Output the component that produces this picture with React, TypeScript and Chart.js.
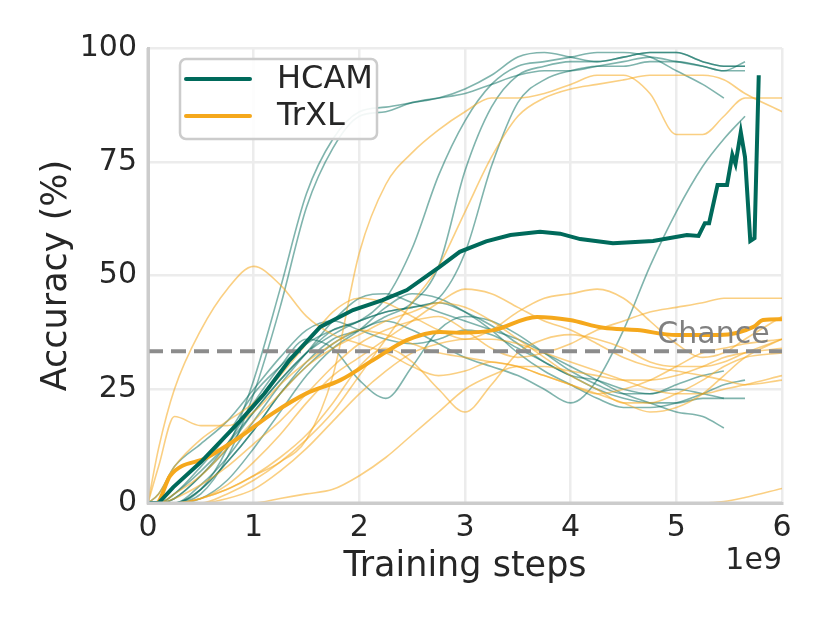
import { useEffect, useRef } from 'react';
import Chart from 'chart.js/auto';

// training steps (x1e9) shared by the individual runs
const steps = [0, 0.1, 0.25, 0.5, 0.75, 1, 1.25, 1.5, 1.75, 2, 2.25, 2.5, 2.75, 3, 3.25, 3.5, 3.75, 4, 4.25, 4.5, 4.75, 5, 5.25, 5.45, 5.65, 6];

// HCAM individual runs (accuracy %)
const hcamRun1 = [0, 0, 0, 3, 12, 27, 47, 68, 80, 86, 87, 88, 89, 91, 94, 98, 99, 98, 97, 98, 99, 99, 97, 96, 96, null];
const hcamRun2 = [0, 0, 0, 2, 10, 24, 43, 65, 78, 85, 86, 88, 89, 90, 92, 94, 95, 95, 96, 97, 98, 97, 96, 95, 95, null];
const hcamRun3 = [0, 0, 1, 6, 12, 20, 27, 33, 38, 40, 45, 56, 72, 84, 92, 96, 97, 98, 99, 99, 98, 95, 92, 89, null, null];
const hcamRun4 = [0, 0, 0, 3, 9, 16, 24, 31, 36, 38, 41, 44, 52, 73, 87, 94, 96, 97, 97, 98, 99, 99, 97, 96, 96, null];
const hcamRun5 = [0, 0, 2, 7, 13, 20, 27, 33, 37, 40, 42, 43, 45, 55, 74, 88, 93, 95, 96, 96, 97, 97, 96, 95, 97, null];
const hcamRun6 = [0, 0, 0, 3, 9, 16, 24, 30, 35, 38, 40, 38, 35, 32, 30, 28, 25, 22, 27, 38, 52, 64, 74, 80, 85, null];
const hcamRun7 = [0, 0, 0, 4, 10, 18, 26, 33, 40, 45, 46, 44, 42, 40, 38, 36, 33, 30, 27, 24, 22, 20, 19, 16.5, null, null];
const hcamRun8 = [0, 0, 2, 8, 15, 24, 30, 35, 38, 40, 42, 43, 44, 42, 39, 35, 31, 28, 25, 23, 22, 22, 23, 23, 23, null];
const hcamRun9 = [0, 0, 1, 6, 13, 22, 30, 36, 34, 27, 23, 30, 38, 41, 40, 37, 33, 29, 26, 24, 24, 25, 24, 23, null, null];
const hcamRun10 = [0, 0, 0, 1, 5, 12, 20, 28, 34, 38, 43, 46, 45, 42, 38, 33, 29, 26, 23, 21, 21, 22, 24, 26, 27, null];
const hcamRun11 = [0, 2, 8, 13, 18, 25, 32, 38, 40, 38, 36, 35, 36, 38, 37, 34, 31, 28, 27, 25, 24, 26, 28, 29, null, null];

// TrXL individual runs (accuracy %)
const trxlRun1 = [0, 12, 25, 38, 47, 52, 48, 41, 37, 35, 33, 30, 28, 29, 31, 30, 28, 26, 24, 25, 27, 30, 33, 34, 35, 36];
const trxlRun2 = [0, 0, 0, 1, 3, 6, 9, 14, 28, 55, 70, 77, 82, 86, 89, 89, 90, 92, 94, 94, 90, 81, 81, 85, 89, 89];
const trxlRun3 = [0, 0, 0, 0, 2, 5, 9, 14, 20, 28, 36, 44, 52, 64, 76, 85, 89, 91, 92, 93, 94, 94, 94, 93, 90, 86];
const trxlRun4 = [0, 0, 0, 0, 0, 0, 1, 2, 3, 6, 10, 15, 20, 25, 28, 30, 30, 29, 28, 27, 27, 28, 30, 32, 33, 34];
const trxlRun5 = [0, 0, 0, 0, 0, 0, 0, 0, 0, 0, 0, 0, 0, 0, 0, 0, 0, 0, 0, 0, 0, 0, 0, 0.3, 1.2, 3.2];
const trxlRun6 = [0, 2, 8, 14, 18, 22, 28, 35, 42, 45, 44, 41, 38, 36, 38, 42, 45, 46, 47, 45, 40, 35, 32, 33, 36, 41];
const trxlRun7 = [0, 0, 1, 4, 8, 13, 18, 24, 30, 35, 38, 40, 41, 38, 34, 32, 33, 35, 38, 40, 42, 43, 44, 45, 45, 45];
const trxlRun8 = [0, 0, 2, 6, 12, 18, 24, 30, 34, 37, 40, 42, 44, 43, 40, 36, 32, 28, 25, 22, 22, 24, 27, 30, 32, 33];
const trxlRun9 = [0, 8, 19, 17, 17, 20, 26, 31, 35, 38, 37, 35, 33, 32, 31, 30, 28, 26, 24, 22, 20, 21, 24, 28, 32, 36];
const trxlRun10 = [0, 0, 0, 1, 4, 9, 15, 22, 28, 32, 36, 40, 44, 47, 46, 43, 40, 38, 35, 32, 30, 29, 28, 27, 26, 27];
const trxlRun11 = [0, 0, 0, 0, 1, 3, 7, 12, 18, 24, 29, 33, 35, 36, 36, 35, 33, 31, 29, 27, 25, 24, 24, 25, 26, 28];
const trxlRun12 = [0, 0, 0, 1, 3, 6, 10, 15, 22, 30, 34, 31, 25, 20, 26, 33, 36, 37, 36, 34, 31, 30, 30, 31, 33, 36];

// mean curves
const hcamMeanSteps = [0, 0.1, 0.24, 0.5, 0.87, 1.1, 1.34, 1.63, 1.94, 2.22, 2.45, 2.76, 2.95, 3.2, 3.43, 3.71, 3.9, 4.09, 4.4, 4.78, 5.1, 5.21, 5.27, 5.31, 5.39, 5.48, 5.53, 5.56, 5.61, 5.65, 5.7, 5.74, 5.78];
const hcamMean = [0, 0, 3.5, 9, 18, 24, 31.4, 38.7, 42.4, 44.6, 46.8, 51.9, 55.2, 57.5, 58.9, 59.6, 59.2, 58, 57.1, 57.6, 58.9, 58.7, 61.5, 61.5, 69.9, 69.9, 76.5, 74.5, 81.5, 76, 57.6, 58.2, 94];
const trxlMeanSteps = [0, 0.08, 0.21, 0.56, 0.87, 1.18, 1.5, 1.82, 2.13, 2.45, 2.76, 2.95, 3.27, 3.68, 3.99, 4.31, 4.63, 5, 5.41, 5.73, 5.82, 6];
const trxlMean = [0, 0, 6, 10, 14.5, 19.7, 24.1, 27, 31.4, 35.8, 37.6, 37.4, 38, 40.9, 40.2, 38.5, 38, 36.9, 36.9, 38.7, 40.2, 40.4];

const chanceLevel = 100 / 3;
const xTicks = [0, 1, 2, 3, 4, 5, 6];
const yTicks = [0, 25, 50, 75, 100];

const hcamRuns = [hcamRun1, hcamRun2, hcamRun3, hcamRun4, hcamRun5, hcamRun6, hcamRun7, hcamRun8, hcamRun9, hcamRun10, hcamRun11];
const trxlRuns = [trxlRun1, trxlRun2, trxlRun3, trxlRun4, trxlRun5, trxlRun6, trxlRun7, trxlRun8, trxlRun9, trxlRun10, trxlRun11, trxlRun12];

const TEAL = '#006a5b';
const TEAL_THIN = 'rgba(0,106,91,0.5)';
const ORANGE = '#f5a81c';
const ORANGE_THIN = 'rgba(245,168,28,0.55)';
const TEXT = '#262626';
const SPINE = '#cccccc';
const FONT = "'DejaVu Sans', sans-serif";

const toPoints = (xs: number[], ys: (number | null)[]) =>
  xs.map((x, i) => ({ x, y: ys[i] })).filter((p) => p.y !== null) as { x: number; y: number }[];

const overlay = {
  id: 'overlay',
  afterDatasetsDraw(chart: any) {
    // spines sit above the curves, as in matplotlib
    const { ctx, chartArea } = chart;
    ctx.save();
    ctx.strokeStyle = SPINE;
    ctx.lineWidth = 3;
    ctx.beginPath();
    ctx.moveTo(chartArea.left, chartArea.top);
    ctx.lineTo(chartArea.left, chartArea.bottom);
    ctx.lineTo(chartArea.right, chartArea.bottom);
    ctx.stroke();
    ctx.restore();
  },
  afterDraw(chart: any) {
    const { ctx, scales } = chart;
    ctx.save();
    // "Chance" label
    ctx.font = `30px ${FONT}`;
    ctx.fillStyle = '#808080';
    ctx.textAlign = 'left';
    ctx.textBaseline = 'alphabetic';
    ctx.fillText('Chance', scales.x.getPixelForValue(4.82), scales.y.getPixelForValue(35.2));

    // exponent
    ctx.fillStyle = TEXT;
    ctx.font = `30px ${FONT}`;
    ctx.textAlign = 'right';
    ctx.textBaseline = 'middle';
    ctx.fillText('1e9', chart.chartArea.right, 561);

    // legend
    ctx.beginPath();
    ctx.roundRect(180, 59, 197, 80, 6);
    ctx.fillStyle = 'rgba(255,255,255,0.9)';
    ctx.fill();
    ctx.lineWidth = 2.5;
    ctx.strokeStyle = SPINE;
    ctx.stroke();
    const rows = [
      { label: 'HCAM', color: TEAL, y: 79 },
      { label: 'TrXL', color: ORANGE, y: 116 },
    ];
    ctx.lineCap = 'round';
    rows.forEach((r) => {
      ctx.beginPath();
      ctx.moveTo(186, r.y);
      ctx.lineTo(250, r.y);
      ctx.strokeStyle = r.color;
      ctx.lineWidth = 4;
      ctx.stroke();
      ctx.fillStyle = TEXT;
      ctx.font = `32px ${FONT}`;
      ctx.textAlign = 'left';
      ctx.textBaseline = 'middle';
      ctx.fillText(r.label, 277, r.y + 1);
    });
    ctx.restore();
  },
};

const App = () => {
  const chartRef = useRef<HTMLCanvasElement>(null);
  const chartInstance = useRef<Chart | null>(null);

  useEffect(() => {
    if (!chartRef.current) return;
    if (chartInstance.current) chartInstance.current.destroy();
    const ctx = chartRef.current.getContext('2d');
    if (!ctx) return;

    const thin = (ys: (number | null)[], color: string, order: number) => ({
      data: toPoints(steps, ys),
      borderColor: color,
      borderWidth: 1.6,
      cubicInterpolationMode: 'monotone' as const,
      pointRadius: 0,
      order,
    });

    const datasets: any[] = [
      {
        label: 'HCAM',
        data: toPoints(hcamMeanSteps, hcamMean),
        borderColor: TEAL,
        borderWidth: 4,
        tension: 0,
        pointRadius: 0,
        order: 0,
      },
      {
        label: 'TrXL',
        data: toPoints(trxlMeanSteps, trxlMean),
        borderColor: ORANGE,
        borderWidth: 4,
        cubicInterpolationMode: 'monotone',
        pointRadius: 0,
        order: 1,
      },
      {
        label: 'Chance',
        data: [{ x: 0, y: chanceLevel }, { x: 6, y: chanceLevel }],
        borderColor: '#8c8c8c',
        borderWidth: 4,
        borderDash: [15, 8],
        pointRadius: 0,
        order: 2,
      },
      ...trxlRuns.map((r) => thin(r, ORANGE_THIN, 3)),
      ...hcamRuns.map((r) => thin(r, TEAL_THIN, 4)),
    ];

    chartInstance.current = new Chart(ctx, {
      type: 'line',
      data: { datasets },
      options: {
        animation: false,
        responsive: true,
        maintainAspectRatio: false,
        layout: { padding: { top: 48, right: 48, left: 0, bottom: 0 } },
        plugins: { legend: { display: false }, tooltip: { enabled: false } },
        scales: {
          x: {
            type: 'linear',
            min: 0,
            max: 6,
            afterBuildTicks: (scale: any) => {
              scale.ticks = xTicks.map((v) => ({ value: v }));
            },
            afterFit: (scale: any) => {
              scale.height = 120;
            },
            ticks: { color: TEXT, font: { family: FONT, size: 30 }, padding: 7, maxRotation: 0 },
            grid: { color: '#ececec', lineWidth: 2.5, drawTicks: false },
            border: { color: SPINE, width: 3 },
            title: {
              display: true,
              text: 'Training steps',
              color: TEXT,
              font: { family: FONT, size: 35 },
              padding: { top: 0, bottom: 35 },
            },
          },
          y: {
            min: 0,
            max: 100,
            afterBuildTicks: (scale: any) => {
              scale.ticks = yTicks.map((v) => ({ value: v }));
            },
            afterFit: (scale: any) => {
              scale.width = 148;
            },
            ticks: { color: TEXT, font: { family: FONT, size: 30 }, padding: 11 },
            grid: { color: '#ececec', lineWidth: 2.5, drawTicks: false },
            border: { color: SPINE, width: 3 },
            title: {
              display: true,
              text: 'Accuracy (%)',
              color: TEXT,
              font: { family: FONT, size: 35 },
              padding: { top: 36, bottom: 0 },
            },
          },
        },
      },
      plugins: [overlay],
    });

    return () => {
      if (chartInstance.current) {
        chartInstance.current.destroy();
        chartInstance.current = null;
      }
    };
  }, []);

  return (
    <div style={{ position: 'fixed', left: 0, top: 0, width: 830, height: 623, background: '#fff' }}>
      <canvas ref={chartRef} />
    </div>
  );
};

export default App;
